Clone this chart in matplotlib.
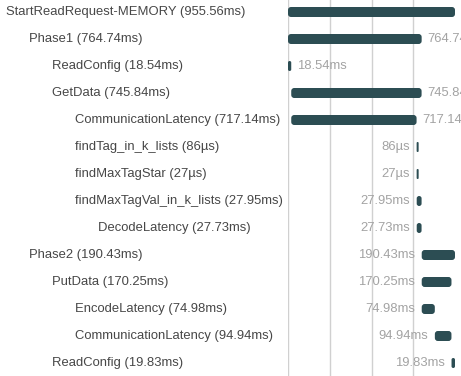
import matplotlib.pyplot as plt
from matplotlib.patches import FancyBboxPatch

# span tree of one read request (times in ms)
names = ["StartReadRequest-MEMORY", "Phase1", "ReadConfig", "GetData",
         "CommunicationLatency", "findTag_in_k_lists", "findMaxTagStar",
         "findMaxTagVal_in_k_lists", "DecodeLatency", "Phase2", "PutData",
         "EncodeLatency", "CommunicationLatency", "ReadConfig"]
levels = [0, 1, 2, 2, 3, 3, 3, 3, 4, 1, 2, 3, 3, 2]
starts = [0, 0, 0, 18.54, 18.54, 736.0, 736.1, 736.4, 736.5,
          765.13, 765.13, 765.13, 840.3, 935.7]
durations = [955.56, 764.74, 18.54, 745.84, 717.14, 0.086, 0.027,
             27.95, 27.73, 190.43, 170.25, 74.98, 94.94, 19.83]

W, H = 461, 376
x0_px, x_end_px = 288, 455       # where 0 and the total land
row_px, top_px = 27, 12
bar_px = 10
total = durations[0]
ppm = (x_end_px - x0_px) / total  # pixels per ms

bar_col = "#2c4d53"
name_col = "#474747"
dur_col = "#a3a3a3"
font = "Liberation Sans"
fs = 9.4


def fmt(d):
    if d < 1:
        return "%dµs" % round(d * 1000)
    return "%.2fms" % d


fig = plt.figure(figsize=(W / 100, H / 100), dpi=100)
ax = fig.add_axes([x0_px / W, 0, 1 - x0_px / W, 1])
ax.set_xlim(0, (W - x0_px) / ppm)
ax.set_ylim((H - top_px) / row_px, -top_px / row_px)
ax.axis("off")

for k in range(4):
    ax.axvline(total * k / 4, color="#d0d0d0", lw=1, zorder=0)

h = bar_px / row_px
aspect = ppm / row_px
for i, (nm, lv, s, d) in enumerate(zip(names, levels, starts, durations)):
    w = max(d, 2 / ppm)
    r = min(3, w * ppm / 2) / ppm
    ax.add_patch(FancyBboxPatch((s, i - h / 2), w, h,
                                boxstyle="round,pad=0,rounding_size=%g" % r,
                                mutation_aspect=aspect, fc=bar_col, ec="none",
                                zorder=2))
    ax.annotate("%s (%s)" % (nm, fmt(d)), xy=((6 + 23 * lv) / W, i),
                xycoords=("figure fraction", "data"), va="center", ha="left",
                color=name_col, fontsize=fs, family=font,
                annotation_clip=False)
    if s > total / 2:
        ax.annotate(fmt(d), xy=(s, i), xytext=(-7, 0),
                    textcoords="offset pixels", va="center", ha="right",
                    color=dur_col, fontsize=fs, family=font)
    else:
        ax.annotate(fmt(d), xy=(s + w, i), xytext=(6, 0),
                    textcoords="offset pixels", va="center", ha="left",
                    color=dur_col, fontsize=fs, family=font,
                    annotation_clip=False)

fig.savefig("out.png", dpi=100)
